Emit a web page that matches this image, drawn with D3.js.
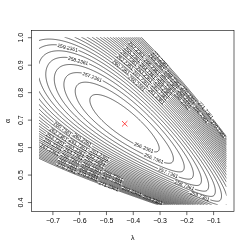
<!DOCTYPE html>
<html>
<head>
<meta charset="utf-8">
<script src="https://cdn.jsdelivr.net/npm/d3@7"></script>
<style>
  body { margin: 0; background: #fff; }
  text { font-family: "Liberation Sans", Arial, Helvetica, sans-serif; }
  .labels { opacity: 0.99; will-change: transform; }
</style>
</head>
<body>
<svg id="chart" width="249" height="250"></svg>
<script>
// ---- data ----
var lambdaRange = [-0.75, -0.05];
var alphaRange = [0.39, 1.0];
var xTicks = [-0.7, -0.6, -0.5, -0.4, -0.3, -0.2, -0.1];
var yTicks = [0.4, 0.5, 0.6, 0.7, 0.8, 0.9, 1.0];
var levels = [256.2361, 256.7361, 257.2361, 257.7361, 258.2361, 258.7361,
              259.2361, 259.7361, 260.2361, 260.7361, 261.2361, 261.7361,
              262.2361, 262.7361, 263.2361, 263.7361, 264.2361, 264.7361,
              265.2361, 265.7361, 266.2361, 266.7361, 267.2361, 267.7361,
              268.2361, 268.7361, 269.2361, 269.7361, 270.2361, 270.7361,
              271.2361, 271.7361];
var mle = [-0.43, 0.685];          // the red cross
var minValue = 255.7361;
// surface shape (units of 0.1 on both axes)
var axisAngle = 38;                 // degrees, long axis of the ellipses
var alongScale = 1.6;
var upperWidth = [0.47, 16];        // width, fan length on the upper-right side
var lowerWidth = [0.44, 8.2];       // width, fan length on the lower-left side
// where R put the labels of the inner contours [level, lambda, alpha]
var labelSpots = [
  [256.2361, -0.358, 0.597],
  [256.7361, -0.321, 0.560],
  [257.2361, -0.552, 0.859],
  [257.7361, -0.268, 0.502],
  [258.2361, -0.604, 0.917],
  [258.7361, -0.205, 0.466],
  [259.2361, -0.642, 0.979],
  [259.7361, -0.149, 0.426]
];
var bandSpots = [[-0.36, 0.86], [-0.62, 0.58]];

// ---- layout ----
var svg = d3.select("#chart");
var mLeft = 31.5, mRight = 234, mTop = 30.5, mBottom = 211.5;
var ext = function (r) { var e = (r[1] - r[0]) * 0.04; return [r[0] - e, r[1] + e]; };
var x = d3.scaleLinear().domain(ext(lambdaRange)).range([mLeft, mRight]);
var y = d3.scaleLinear().domain(ext(alphaRange)).range([mBottom, mTop]);

var ca = Math.cos(axisAngle * Math.PI / 180), sa = Math.sin(axisAngle * Math.PI / 180);
function surface(l, a) {
  var p = (l - mle[0]) * 10, q = (mle[1] - a) * 10;
  var u = p * ca + q * sa, v = p * sa - q * ca;
  var w = v > 0 ? upperWidth : lowerWidth;
  var width = w[0] * Math.max(0.05, 1 - u / w[1]);
  return minValue + 0.5 * (u / alongScale) * (u / alongScale) + 0.5 * (v / width) * (v / width);
}

// grid a little wider than the data range, lines get clipped
var step = 0.0025, gx0 = -0.80, gy0 = 0.34;
var nx = 321, ny = 289;
var values = new Float64Array(nx * ny);
for (var j = 0; j < ny; j++)
  for (var i = 0; i < nx; i++)
    values[j * nx + i] = surface(gx0 + i * step, gy0 + j * step);

var contours = d3.contours().size([nx, ny]).thresholds(levels)(values);

svg.append("clipPath").attr("id", "clip").append("rect")
  .attr("x", x(lambdaRange[0])).attr("y", y(alphaRange[1]))
  .attr("width", x(lambdaRange[1]) - x(lambdaRange[0]))
  .attr("height", y(alphaRange[0]) - y(alphaRange[1]));

var inX = [x(lambdaRange[0]), x(lambdaRange[1])], inY = [y(alphaRange[1]), y(alphaRange[0])];
function isIn(p) { return p.x >= inX[0] && p.x <= inX[1] && p.y >= inY[0] && p.y <= inY[1]; }

function ringPieces(ring) {
  var pts = ring.map(function (c) {
    var p = { x: x(gx0 + (c[0] - 0.5) * step), y: y(gy0 + (c[1] - 0.5) * step) };
    p.inside = isIn(p);
    return p;
  });
  pts.pop();
  var n = pts.length;
  var start = pts.findIndex(function (p) { return !p.inside; });
  if (start < 0) return [{ pts: pts.concat([pts[0]]), closed: true }];
  var pieces = [], cur = null;
  for (var k = 1; k <= n; k++) {
    var i = (start + k) % n, p = pts[i];
    if (p.inside) {
      if (!cur) cur = [pts[(i - 1 + n) % n]];
      cur.push(p);
    } else if (cur) { cur.push(p); pieces.push({ pts: cur, closed: false }); cur = null; }
  }
  return pieces;
}

function cumul(P) {
  var S = [0];
  for (var i = 1; i < P.length; i++) S.push(S[i - 1] + Math.hypot(P[i].x - P[i - 1].x, P[i].y - P[i - 1].y));
  return S;
}
function interp(P, S, s) {
  var i = d3.bisectLeft(S, s);
  if (i <= 0) return P[0];
  if (i >= P.length) return P[P.length - 1];
  var t = (s - S[i - 1]) / ((S[i] - S[i - 1]) || 1);
  return { x: P[i - 1].x + t * (P[i].x - P[i - 1].x), y: P[i - 1].y + t * (P[i].y - P[i - 1].y) };
}
function along(P, S, s0, s1) {
  var out = [interp(P, S, s0)];
  for (var i = 0; i < P.length; i++) if (S[i] > s0 && S[i] < s1) out.push(P[i]);
  out.push(interp(P, S, s1));
  return out;
}

function overlap(a, b) {
  return [a.ang, a.ang + Math.PI / 2, b.ang, b.ang + Math.PI / 2].every(function (t) {
    var c = Math.cos(t), s = Math.sin(t);
    var d = Math.abs((b.x - a.x) * c + (b.y - a.y) * s);
    var ra = a.hw * Math.abs(Math.cos(t - a.ang)) + a.hh * Math.abs(Math.sin(t - a.ang));
    var rb = b.hw * Math.abs(Math.cos(t - b.ang)) + b.hh * Math.abs(Math.sin(t - b.ang));
    return d < ra + rb;
  });
}

var labelSize = 5;
var probe = svg.append("text").style("font-size", labelSize + "px").text("256.2361");
var labelWidth = probe.node().getComputedTextLength();
probe.remove();

var lineGen = d3.line().x(function (d) { return d.x; }).y(function (d) { return d.y; });
var linesG = svg.append("g").attr("clip-path", "url(#clip)");
var labelsG = svg.append("g").attr("class", "labels");
var boxes = [];

contours.forEach(function (c) {
  var text = c.value.toFixed(4);
  var spots = labelSpots.filter(function (d) { return d[0] === c.value; })
    .map(function (d) { return { x: x(d[1]), y: y(d[2]) }; });
  c.coordinates.forEach(function (poly) {
    poly.forEach(function (ring) {
      ringPieces(ring).forEach(function (piece) {
        var P = piece.pts, S = cumul(P), L = S[S.length - 1];
        var hw = labelWidth / 2 + 0.8;
        if (piece.closed) { P = P.concat(P.slice(1)); S = cumul(P); }
        // pick a target
        var cand = spots.concat(bandSpots.map(function (d) { return { x: x(d[0]), y: y(d[1]) }; }));
        function dmin(t) { return d3.min(P, function (p) { return Math.hypot(p.x - t.x, p.y - t.y); }); }
        var target = null;
        if (spots.length) { var t0 = d3.least(spots, dmin); if (dmin(t0) < 30) target = t0; }
        if (!target) target = d3.least(cand.slice(spots.length), dmin);
        var best = null;
        if (L > labelWidth * 2) {
          for (var i = 0; i < P.length; i++) {
            var s0 = S[i];
            if (piece.closed ? (s0 < hw || s0 >= L + hw) : (s0 < hw + 1 || s0 > L - hw - 1)) continue;
            var a = interp(P, S, s0 - hw), b = interp(P, S, s0 + hw);
            if (!isIn(a) || !isIn(b)) continue;
            var ang = Math.atan2(b.y - a.y, b.x - a.x);
            var seg = along(P, S, s0 - hw, s0 + hw), chord = Math.hypot(b.x - a.x, b.y - a.y) || 1;
            var dev = d3.max(seg, function (p) { return Math.abs((p.x - a.x) * (b.y - a.y) - (p.y - a.y) * (b.x - a.x)) / chord; });
            if (dev > 1.6) continue;
            var box = { x: (a.x + b.x) / 2, y: (a.y + b.y) / 2, ang: ang, hw: hw, hh: labelSize * 0.42 };
            if (boxes.some(function (o) { return overlap(o, box); })) continue;
            var score = Math.hypot(box.x - target.x, box.y - target.y) + 6 * dev;
            if (!best || score < best.score) best = { score: score, s0: s0, box: box };
          }
        }
        var parts;
        if (best) {
          boxes.push(best.box);
          parts = piece.closed ? [along(P, S, best.s0 + hw, best.s0 - hw + L)]
                               : [along(P, S, 0, best.s0 - hw), along(P, S, best.s0 + hw, L)];
          var deg = best.box.ang * 180 / Math.PI;
          if (deg > 90) deg -= 180; else if (deg < -90) deg += 180;
          labelsG.append("text")
            .attr("transform", "translate(" + best.box.x + "," + best.box.y + ") rotate(" + deg + ")")
            .attr("text-anchor", "middle").attr("dy", "0.35em")
            .style("font-size", labelSize + "px").attr("fill", "#000")
            .text(text);
        } else {
          parts = [piece.closed ? piece.pts : P];
        }
        parts.forEach(function (pp) {
          linesG.append("path").attr("d", lineGen(pp))
            .attr("fill", "none").attr("stroke", "#000").attr("stroke-width", 0.6);
        });
      });
    });
  });
});

// red cross at the estimate
var cx = x(mle[0]), cy = y(mle[1]), r = 2.7;
svg.append("path")
  .attr("d", "M" + (cx - r) + "," + (cy - r) + "L" + (cx + r) + "," + (cy + r) +
             "M" + (cx - r) + "," + (cy + r) + "L" + (cx + r) + "," + (cy - r))
  .attr("stroke", "#ff0000").attr("stroke-width", 0.7);

// box and axes
svg.append("rect").attr("x", mLeft).attr("y", mTop).attr("width", mRight - mLeft).attr("height", mBottom - mTop)
  .attr("fill", "none").attr("stroke", "#000").attr("stroke-width", 0.6);

var xAxis = svg.append("g").attr("transform", "translate(0," + mBottom + ")")
  .call(d3.axisBottom(x).tickValues(xTicks).tickSize(3.6).tickPadding(2.5)
    .tickFormat(function (d) { return "\u2212" + Math.abs(d).toFixed(1); }));
var yAxis = svg.append("g").attr("transform", "translate(" + mLeft + ",0)")
  .call(d3.axisLeft(y).tickValues(yTicks).tickSize(3.6).tickFormat(d3.format(".1f")));
[xAxis, yAxis].forEach(function (g) {
  g.select(".domain").remove();
  g.selectAll("line").attr("stroke", "#000").attr("stroke-width", 0.6);
  g.selectAll("text").style("font-size", "7px").style("font-family", '"Liberation Sans", Arial, sans-serif').attr("fill", "#000");
});
yAxis.selectAll(".tick text")
  .attr("x", null).attr("dy", null)
  .attr("transform", "translate(-11.5,0) rotate(-90)")
  .attr("text-anchor", "middle").attr("dominant-baseline", "central");

svg.append("text").attr("x", (mLeft + mRight) / 2).attr("y", 240)
  .attr("text-anchor", "middle").style("font-size", "7px").text("\u03bb");
svg.append("text").attr("transform", "translate(7," + ((mTop + mBottom) / 2) + ") rotate(-90)")
  .attr("text-anchor", "middle").attr("dominant-baseline", "central").style("font-size", "7px").text("\u03b1");
</script>
</body>
</html>
